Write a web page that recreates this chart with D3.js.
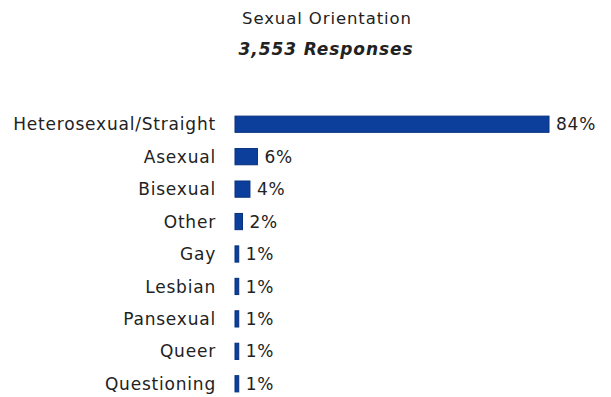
<!DOCTYPE html>
<html>
<head>
<meta charset="utf-8">
<script src="https://cdn.jsdelivr.net/npm/d3@7"></script>
<style>
  html, body { margin: 0; padding: 0; background: #fff; }
  svg { display: block; font-family: "DejaVu Sans", Verdana, sans-serif; }
</style>
</head>
<body>
<svg id="chart" width="611" height="397"></svg>
<script>
// Survey: sexual orientation of respondents
const title = "Sexual Orientation";
const subtitle = "3,553 Responses";
const categories = ["Heterosexual/Straight", "Asexual", "Bisexual", "Other", "Gay", "Lesbian", "Pansexual", "Queer", "Questioning"];
const percents = [84, 6, 4, 2, 1, 1, 1, 1, 1];

const svg = d3.select("#chart");
const plotLeft = 235, plotRight = 549;
const plotTop = 108, plotBottom = 400;

const x = d3.scaleLinear().domain([0, 84]).range([plotLeft, plotRight]);
const y = d3.scaleBand().domain(categories).range([plotTop, plotBottom]).paddingInner(0.5).paddingOuter(0.25);

svg.append("text")
  .attr("x", 327).attr("y", 24)
  .attr("text-anchor", "middle")
  .attr("font-size", 16.5)
  .attr("letter-spacing", 0.9)
  .attr("fill", "#222")
  .text(title);

svg.append("text")
  .attr("x", 326).attr("y", 55)
  .attr("text-anchor", "middle")
  .attr("font-size", 17)
  .attr("letter-spacing", 0.9)
  .attr("font-weight", "bold")
  .attr("font-style", "italic")
  .attr("fill", "#222")
  .text(subtitle);

const rows = svg.append("g").selectAll("g")
  .data(categories.map((c, i) => ({ c, v: percents[i] })))
  .join("g");

rows.append("rect")
  .attr("x", x(0))
  .attr("y", d => y(d.c))
  .attr("width", d => Math.max(2, x(d.v) - x(0)))
  .attr("height", y.bandwidth())
  .attr("fill", "#0c3f9c")
  .attr("stroke", "#07307c")
  .attr("stroke-width", 1);

rows.append("text")
  .attr("x", 216)
  .attr("y", d => y(d.c) + y.bandwidth() / 2)
  .attr("dy", "0.36em")
  .attr("text-anchor", "end")
  .attr("font-size", 17)
  .attr("letter-spacing", 0.8)
  .attr("fill", "#222")
  .text(d => d.c);

rows.append("text")
  .attr("x", d => Math.max(x(0) + 2, x(d.v)) + 7)
  .attr("y", d => y(d.c) + y.bandwidth() / 2)
  .attr("dy", "0.36em")
  .attr("font-size", 17)
  .attr("letter-spacing", 0.8)
  .attr("fill", "#222")
  .text(d => d.v + "%");
</script>
</body>
</html>
